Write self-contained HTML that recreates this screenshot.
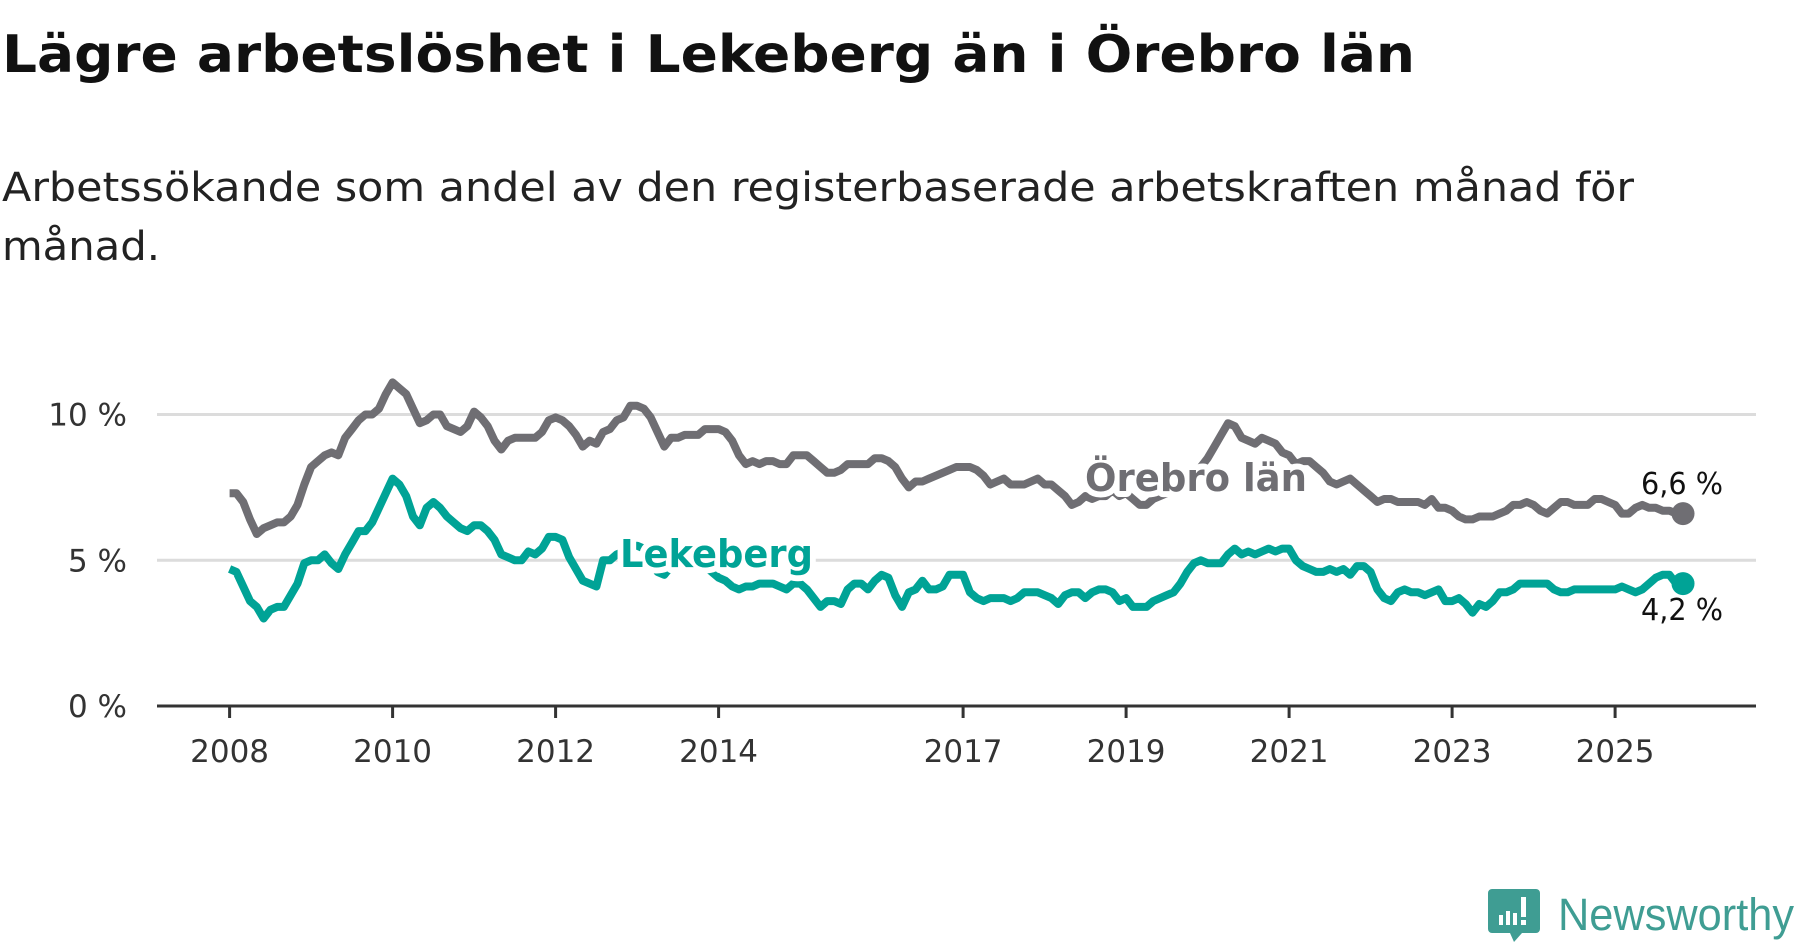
<!DOCTYPE html>
<html><head><meta charset="utf-8"><style>
body{margin:0;width:1800px;height:948px;background:#fff;overflow:hidden;font-family:"DejaVu Sans","Liberation Sans",sans-serif}
svg{position:absolute;left:0;top:0}
</style></head><body>
<svg width="1800" height="948" font-family="DejaVu Sans, Liberation Sans, sans-serif">
<text x="2" y="72" font-size="52" font-weight="bold" fill="#111" textLength="1413" lengthAdjust="spacingAndGlyphs">Lägre arbetslöshet i Lekeberg än i Örebro län</text>
<text x="2" y="201" font-size="40" fill="#222" textLength="1632" lengthAdjust="spacingAndGlyphs">Arbetssökande som andel av den registerbaserade arbetskraften månad för</text>
<text x="2" y="260" font-size="40" fill="#222" textLength="158" lengthAdjust="spacingAndGlyphs">månad.</text>
<g id="grid"></g><g id="lines"></g><g id="labels"></g>
<g>
<path d="M1492 889 h44 a4 4 0 0 1 4 4 v36 a4 4 0 0 1 -4 4 h-14 l-8 9 l-4 -9 h-18 a4 4 0 0 1 -4 -4 v-36 a4 4 0 0 1 4 -4z" fill="#3f9d93"/>
<rect x="1499" y="915" width="4" height="10" fill="#fff"/><rect x="1506" y="911" width="4" height="14" fill="#fff"/><rect x="1513" y="913" width="4" height="12" fill="#fff"/><rect x="1521" y="897" width="5" height="20" fill="#fff"/><rect x="1521" y="920" width="5" height="5" fill="#fff"/>
<text x="1558" y="930" font-family="Liberation Sans, sans-serif" font-size="45" fill="#3f9d93" textLength="236" lengthAdjust="spacingAndGlyphs">Newsworthy</text>
</g>
</svg>
<script>
const years=[2008,2010,2012,2014,2017,2019,2021,2023,2025];
const yTicks=[0,5,10];
const orebro=[7.3,7.3,7.0,6.4,5.9,6.1,6.2,6.3,6.3,6.5,6.9,7.6,
8.2,8.4,8.6,8.7,8.6,9.2,9.5,9.8,10.0,10.0,10.2,10.7,
11.1,10.9,10.7,10.2,9.7,9.8,10.0,10.0,9.6,9.5,9.4,9.6,
10.1,9.9,9.6,9.1,8.8,9.1,9.2,9.2,9.2,9.2,9.4,9.8,
9.9,9.8,9.6,9.3,8.9,9.1,9.0,9.4,9.5,9.8,9.9,10.3,
10.3,10.2,9.9,9.4,8.9,9.2,9.2,9.3,9.3,9.3,9.5,9.5,
9.5,9.4,9.1,8.6,8.3,8.4,8.3,8.4,8.4,8.3,8.3,8.6,
8.6,8.6,8.4,8.2,8.0,8.0,8.1,8.3,8.3,8.3,8.3,8.5,
8.5,8.4,8.2,7.8,7.5,7.7,7.7,7.8,7.9,8.0,8.1,8.2,
8.2,8.2,8.1,7.9,7.6,7.7,7.8,7.6,7.6,7.6,7.7,7.8,
7.6,7.6,7.4,7.2,6.9,7.0,7.2,7.1,7.2,7.2,7.4,7.2,
7.3,7.1,6.9,6.9,7.1,7.2,7.3,7.4,7.6,7.8,8.0,8.2,
8.5,8.9,9.3,9.7,9.6,9.2,9.1,9.0,9.2,9.1,9.0,8.7,
8.6,8.3,8.4,8.4,8.2,8.0,7.7,7.6,7.7,7.8,7.6,7.4,
7.2,7.0,7.1,7.1,7.0,7.0,7.0,7.0,6.9,7.1,6.8,6.8,
6.7,6.5,6.4,6.4,6.5,6.5,6.5,6.6,6.7,6.9,6.9,7.0,
6.9,6.7,6.6,6.8,7.0,7.0,6.9,6.9,6.9,7.1,7.1,7.0,
6.9,6.6,6.6,6.8,6.9,6.8,6.8,6.7,6.7,6.6,6.6];
const lekeberg=[4.7,4.6,4.1,3.6,3.4,3.0,3.3,3.4,3.4,3.8,4.2,4.9,
5.0,5.0,5.2,4.9,4.7,5.2,5.6,6.0,6.0,6.3,6.8,7.3,
7.8,7.6,7.2,6.5,6.2,6.8,7.0,6.8,6.5,6.3,6.1,6.0,
6.2,6.2,6.0,5.7,5.2,5.1,5.0,5.0,5.3,5.2,5.4,5.8,
5.8,5.7,5.1,4.7,4.3,4.2,4.1,5.0,5.0,5.2,5.3,5.5,
5.5,5.4,5.0,4.6,4.5,4.8,5.0,5.2,5.3,5.1,4.8,4.6,
4.4,4.3,4.1,4.0,4.1,4.1,4.2,4.2,4.2,4.1,4.0,4.2,
4.2,4.0,3.7,3.4,3.6,3.6,3.5,4.0,4.2,4.2,4.0,4.3,
4.5,4.4,3.8,3.4,3.9,4.0,4.3,4.0,4.0,4.1,4.5,4.5,
4.5,3.9,3.7,3.6,3.7,3.7,3.7,3.6,3.7,3.9,3.9,3.9,
3.8,3.7,3.5,3.8,3.9,3.9,3.7,3.9,4.0,4.0,3.9,3.6,
3.7,3.4,3.4,3.4,3.6,3.7,3.8,3.9,4.2,4.6,4.9,5.0,
4.9,4.9,4.9,5.2,5.4,5.2,5.3,5.2,5.3,5.4,5.3,5.4,
5.4,5.0,4.8,4.7,4.6,4.6,4.7,4.6,4.7,4.5,4.8,4.8,
4.6,4.0,3.7,3.6,3.9,4.0,3.9,3.9,3.8,3.9,4.0,3.6,
3.6,3.7,3.5,3.2,3.5,3.4,3.6,3.9,3.9,4.0,4.2,4.2,
4.2,4.2,4.2,4.0,3.9,3.9,4.0,4.0,4.0,4.0,4.0,4.0,
4.0,4.1,4.0,3.9,4.0,4.2,4.4,4.5,4.5,4.2,4.2];
const NS="http://www.w3.org/2000/svg";
const X0=157,X1=1756,yearPx=81.5,x2008=229.6;
const xOf=i=>x2008+i*yearPx/12;
const xYear=y=>x2008+(y-2008)*yearPx;
const yOf=v=>706-v*29.15;
function mk(tag,attrs,parent,txt){const e=document.createElementNS(NS,tag);for(const k in attrs)e.setAttribute(k,attrs[k]);if(txt!==undefined)e.textContent=txt;parent.appendChild(e);return e;}
const grid=document.getElementById('grid'),lines=document.getElementById('lines'),labels=document.getElementById('labels');
yTicks.forEach(t=>{
 if(t>0){const g=mk('line',{x1:X0,x2:X1,y1:yOf(t),y2:yOf(t),stroke:'#dcdcdc','stroke-width':3},grid);
 
 }
 const l=mk('text',{x:127,y:yOf(t)+11,'text-anchor':'end','font-size':31,fill:'#333'},grid,t+' %');
 
 
});
const ax=mk('line',{x1:X0,x2:X1,y1:706,y2:706,stroke:'#333','stroke-width':3},grid);


years.forEach(y=>{
 const x=xYear(y);
 const t=mk('line',{x1:x,x2:x,y1:706,y2:718,stroke:'#333','stroke-width':3},grid);
 
 
 const l=mk('text',{x:x,y:762,'text-anchor':'middle','font-size':31,fill:'#333'},grid,String(y));
 
 
});
function series(data,color,name){
 const d=data.map((v,i)=>(i?'L':'M')+xOf(i).toFixed(1)+' '+yOf(v).toFixed(1)).join(' ');
 const p=mk('path',{d:d,fill:'none',stroke:color,'stroke-width':8,'stroke-linejoin':'round'},lines);
 
 
 const n=data.length-1;
 const c=mk('circle',{cx:xOf(n),cy:yOf(data[n]),r:11.5,fill:color},lines);
 
 
}
series(orebro,'#6f6e73','orebro');
series(lekeberg,'#00a396','lekeberg');
function lab(x,y,txt,color,size,w,len,name){
 const t=mk('text',{x:x,y:y,'font-size':size,'font-weight':w,fill:color,stroke:'#fff','stroke-width':w=='bold'?12:6,'paint-order':'stroke','stroke-linejoin':'round',textLength:len,lengthAdjust:'spacingAndGlyphs'},labels,txt);
 
 
}
lab(1085,491,'Örebro län','#6f6e73',38,'bold',222,'orebro-series-label');
lab(620,567,'Lekeberg','#00a396',38,'bold',193,'lekeberg-series-label');
lab(1641,494,'6,6 %','#111',30,'normal',82,'orebro-end-value');
lab(1641,620,'4,2 %','#111',30,'normal',82,'lekeberg-end-value');
</script>
</body></html>
